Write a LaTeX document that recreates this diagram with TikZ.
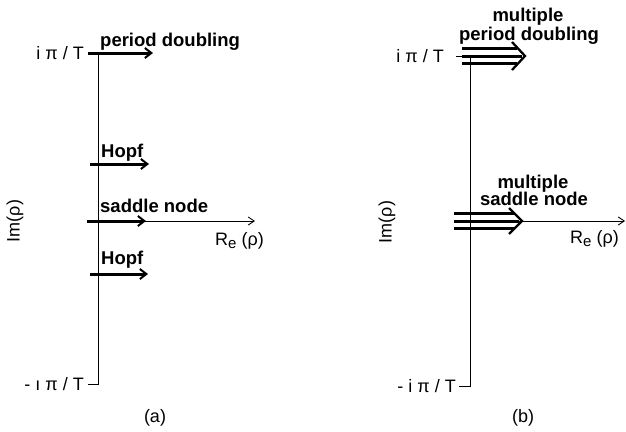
\documentclass[tikz,border=0pt]{standalone}
\usepackage{fontspec}
\setmainfont{Liberation Sans}
\usetikzlibrary{arrows.meta}
\begin{document}
\begin{tikzpicture}[x=1pt,y=-1pt,
  axis/.style={line width=0.9pt},
  axisarrow/.style={axis,-{Straight Barb[length=6pt,width=8pt,line width=0.9pt]}},
  bif/.style={line width=3pt,-{Straight Barb[length=6.5pt,width=10pt,line width=2pt]}},
  tri/.style={line width=3pt},
  chev/.style={line width=2.3pt,line join=miter},
  lbl/.style={font=\fontsize{18.5}{20}\selectfont\bfseries,inner sep=0pt},
  axlbl/.style={font=\fontsize{18}{20}\selectfont,inner sep=0pt}]
\useasboundingbox (0,0) rectangle (626,431);

% ---------------- panel (a) ----------------
\coordinate (aTop) at (98,52);
\coordinate (aBot) at (98,384);
\coordinate (aBotTick) at (88,384);
\coordinate (aReL) at (87,221);
\coordinate (aReR) at (255,221);
\draw[axis] (aTop) -- (aBot) -- (aBotTick);
\draw[axisarrow] (aReL) -- (aReR);

\node[axlbl,anchor=east] (aPi) at (84,53) {i π / T};
\node[axlbl,anchor=east] (aMPi) at (84,384) {- ı π / T};
\node[axlbl,anchor=base west] (aRe) at (215,245) {R\raisebox{-0.35ex}{\fontsize{15}{16}\selectfont e} (ρ)};
\node[axlbl,rotate=90] (aIm) at (15,221) {Im(ρ)};
\node[axlbl] (aCap) at (155,418) {(a)};

% bifurcation arrows
\coordinate (aPDs) at (88,53);   \coordinate (aPDe) at (153,53);
\coordinate (aH1s) at (90,164);  \coordinate (aH1e) at (149,164);
\coordinate (aSNs) at (87,221);  \coordinate (aSNe) at (146,221);
\coordinate (aH2s) at (90,274);  \coordinate (aH2e) at (148,274);
\draw[bif] (aPDs) -- (aPDe);
\draw[bif] (aH1s) -- (aH1e);
\draw[bif] (aSNs) -- (aSNe);
\draw[bif] (aH2s) -- (aH2e);

\node[lbl,anchor=base west] (aPDl) at (100,46) {period doubling};
\node[lbl,anchor=base west] (aH1l) at (101,157) {Hopf};
\node[lbl,anchor=base west] (aSNl) at (100,212) {saddle node};
\node[lbl,anchor=base west] (aH2l) at (101,264) {Hopf};

% ---------------- panel (b) ----------------
\coordinate (bTop) at (470,56);
\coordinate (bBot) at (470,386);
\coordinate (bBotTick) at (459,386);
\coordinate (bTopTick) at (456,56);
\coordinate (bReL) at (456,221);
\coordinate (bReR) at (625,221);
\draw[axis] (bTop) -- (bBot) -- (bBotTick);
\draw[axis] (bTopTick) -- (bTop);
\draw[axisarrow] (bReL) -- (bReR);

\node[axlbl,anchor=east] (bPi) at (444,56) {i π / T};
\node[axlbl,anchor=east] (bMPi) at (456,386) {- i π / T};
\node[axlbl,anchor=base west] (bRe) at (570,243) {R\raisebox{-0.35ex}{\fontsize{15}{16}\selectfont e} (ρ)};
\node[axlbl,rotate=90] (bIm) at (387,222) {Im(ρ)};
\node[axlbl] (bCap) at (523,418) {(b)};

% multiple period doubling: three parallel shafts and one open head
\coordinate (bPDtip) at (525,56);
\coordinate (bPDu) at (512,42);
\coordinate (bPDd) at (512,70);
\draw[tri] (462,48) -- (517,48);
\draw[tri] (462,56) -- (522,56);
\draw[tri] (462,63.5) -- (517,63.5);
\draw[chev] (bPDu) -- (bPDtip) -- (bPDd);

% multiple saddle node
\coordinate (bSNtip) at (522,221);
\coordinate (bSNu) at (509,208);
\coordinate (bSNd) at (509,234);
\draw[tri] (454,213.5) -- (515,213.5);
\draw[tri] (454,221) -- (519,221);
\draw[tri] (454,228.5) -- (515,228.5);
\draw[chev] (bSNu) -- (bSNtip) -- (bSNd);

\node[lbl,align=center,anchor=base] (bPDl1) at (528,21) {multiple};
\node[lbl,align=center,anchor=base] (bPDl2) at (529,40) {period doubling};
\node[lbl,align=center,anchor=base] (bSNl1) at (533,188) {multiple};
\node[lbl,align=center,anchor=base] (bSNl2) at (534,205) {saddle node};
\end{tikzpicture}
\end{document}
